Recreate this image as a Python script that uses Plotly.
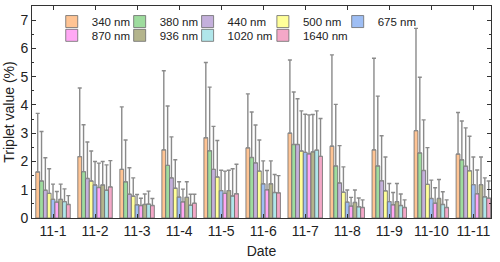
import plotly.graph_objects as go

dates = ["11-1", "11-2", "11-3", "11-4", "11-5", "11-6", "11-7", "11-8", "11-9", "11-10", "11-11"]
wavelengths = ["340 nm", "380 nm", "440 nm", "500 nm", "675 nm", "870 nm", "936 nm", "1020 nm", "1640 nm"]

v340 = [1.63, 2.17, 1.72, 2.41, 2.84, 2.48, 3.00, 2.54, 2.41, 3.09, 2.26]
v380 = [1.31, 1.64, 1.28, 1.86, 2.38, 2.14, 2.60, 1.84, 1.84, 2.30, 2.06]
v440 = [0.98, 1.40, 0.84, 1.42, 1.72, 1.95, 2.60, 1.24, 1.32, 1.68, 1.83]
v500 = [0.87, 1.31, 0.77, 1.05, 1.45, 1.66, 2.37, 0.91, 0.96, 1.19, 1.67]
v675 = [0.66, 1.17, 0.47, 0.74, 0.97, 1.21, 2.32, 0.56, 0.58, 0.69, 1.18]
v870 = [0.56, 1.08, 0.44, 0.57, 0.87, 1.00, 2.27, 0.42, 0.47, 0.52, 0.86]
v936 = [0.66, 1.17, 0.48, 0.73, 0.97, 1.21, 2.34, 0.55, 0.58, 0.69, 1.18]
v1020 = [0.58, 0.98, 0.49, 0.45, 0.78, 0.90, 2.40, 0.40, 0.44, 0.48, 0.75]
v1640 = [0.48, 1.10, 0.44, 0.52, 0.86, 0.89, 2.18, 0.37, 0.37, 0.37, 0.70]

# upper end of error bars (value + std)
t340 = [3.70, 4.60, 3.93, 5.21, 5.50, 4.39, 5.59, 5.77, 5.65, 6.71, 3.73]
t380 = [3.06, 3.30, 2.76, 3.96, 4.63, 3.75, 4.46, 4.02, 4.31, 4.98, 3.43]
t440 = [2.13, 2.69, 1.78, 2.87, 3.24, 3.29, 4.22, 2.56, 2.91, 3.47, 3.19]
t500 = [1.74, 2.37, 1.42, 2.06, 2.74, 2.76, 3.79, 1.81, 2.16, 2.49, 2.89]
t675 = [1.20, 2.00, 0.83, 1.28, 1.69, 2.02, 3.67, 0.99, 1.22, 1.34, 2.16]
t870 = [0.94, 1.94, 0.70, 1.02, 1.66, 1.68, 3.65, 0.73, 0.90, 1.07, 1.70]
t936 = [1.20, 2.00, 0.85, 1.28, 1.69, 2.02, 3.66, 0.99, 1.22, 1.36, 2.16]
t1020 = [1.03, 1.88, 0.95, 0.84, 1.74, 1.54, 3.79, 0.71, 0.85, 0.93, 1.42]
t1640 = [0.79, 2.03, 0.69, 0.84, 1.90, 1.50, 3.52, 0.64, 0.64, 0.64, 1.31]

values = [v340, v380, v440, v500, v675, v870, v936, v1020, v1640]
tops = [t340, t380, t440, t500, t675, t870, t936, t1020, t1640]
colors = ["#FFC494", "#9EDC9E", "#C4B0DC", "#FFFF99", "#9EBEF4", "#FFA8F4", "#B4B48C", "#B0E6EA", "#F4A8C8"]

# legend grid: 5 columns x 2 rows
col_x = [0.043, 0.191, 0.339, 0.503, 0.666]
row_y = [0.995, 0.930]

ff = "Liberation Sans, Arial, sans-serif"
fig = go.Figure()
legends = {}
for i, (name, vals, tp, col) in enumerate(zip(wavelengths, values, tops, colors)):
    key = "legend" if i == 0 else f"legend{i + 1}"
    legends[key] = dict(x=col_x[i % 5], y=row_y[i // 5], xanchor="left", yanchor="top",
                        font=dict(size=11.5, family=ff, color="#222"),
                        bgcolor="rgba(0,0,0,0)", itemwidth=30)
    fig.add_trace(go.Bar(
        x=dates, y=vals, name=name, legend=key,
        marker=dict(color=col, line=dict(color="#6a6a6a", width=0.8)),
        error_y=dict(type="data", symmetric=False,
                     array=[t - v for t, v in zip(tp, vals)],
                     arrayminus=[0] * len(vals),
                     color="#8a8a8a", thickness=1.4, width=2),
    ))

axis_font = dict(family=ff, size=14, color="#222")
fig.update_layout(
    width=500, height=262,
    margin=dict(l=32, r=9, t=5, b=42),
    paper_bgcolor="white", plot_bgcolor="white",
    barmode="group", bargap=0.18, bargroupgap=0,
    font=dict(family=ff, size=12, color="#222"),
    showlegend=True,
    **legends,
    xaxis=dict(type="category", range=[-0.5, 10.42], showline=True, linecolor="#333", linewidth=1,
               mirror="ticks", ticks="inside", ticklen=4, tickcolor="#333", tickfont=axis_font,
               title=dict(text="Date", font=dict(size=14), standoff=8)),
    yaxis=dict(range=[0, 7.5], dtick=1, showline=True, linecolor="#333", linewidth=1, mirror="ticks",
               ticks="inside", ticklen=4, tickcolor="#333", tickfont=axis_font, showgrid=False,
               zeroline=False,
               minor=dict(dtick=0.5, ticks="inside", ticklen=2, tickcolor="#333"),
               title=dict(text="Triplet value (%)", font=dict(size=14), standoff=2)),
)
fig.write_html("out.html", config={"displayModeBar": False},
               post_script="document.body.style.margin='0';")
